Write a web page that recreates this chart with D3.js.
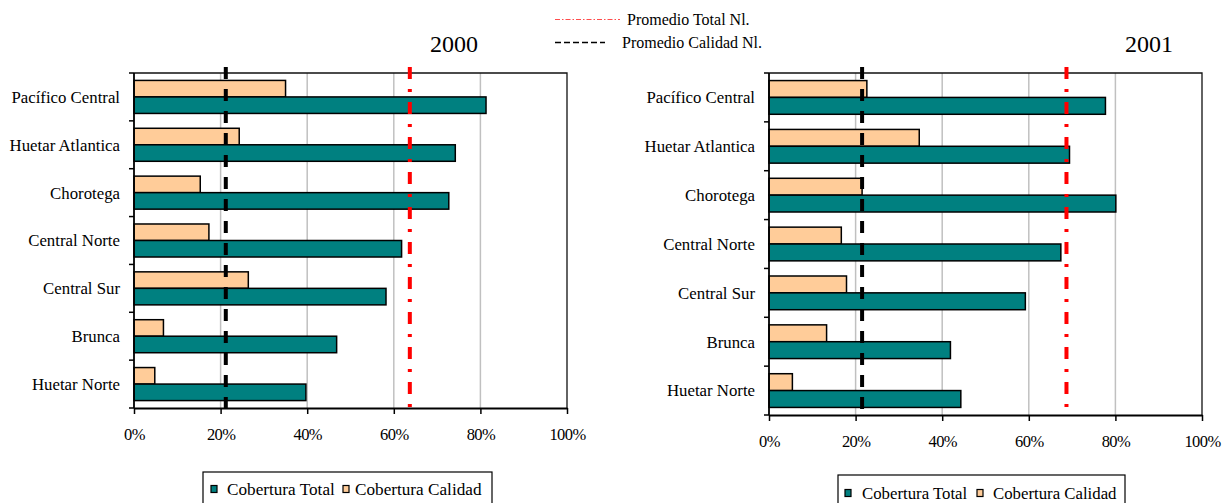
<!DOCTYPE html>
<html>
<head>
<meta charset="utf-8">
<script src="https://cdn.jsdelivr.net/npm/d3@7"></script>
<style>
  html, body { margin: 0; padding: 0; background: #fff; }
  svg { display: block; }
  text { font-family: "Liberation Serif", "Times New Roman", serif; fill: #000; }
</style>
</head>
<body>
<svg id="chart" width="1222" height="503"></svg>
<script>
// Regiones (de arriba hacia abajo)
const regiones = ["Pacífico Central", "Huetar Atlantica", "Chorotega", "Central Norte", "Central Sur", "Brunca", "Huetar Norte"];

// Cobertura (%) por región
const total2000   = [81.3, 74.2, 72.7, 61.8, 58.2, 46.8, 39.7];
const calidad2000 = [35.0, 24.3, 15.3, 17.3, 26.4, 6.8, 4.8];
const total2001   = [77.7, 69.4, 80.1, 67.4, 59.2, 41.9, 44.3];
const calidad2001 = [22.6, 34.7, 21.5, 16.7, 17.9, 13.3, 5.4];

// Promedios nacionales (%), 2000 y 2001
const anios = ["2000", "2001"];
const promedioTotal   = [63.7, 68.7];
const promedioCalidad = [21.2, 21.5];

const series = ["Cobertura Calidad", "Cobertura Total"];
const xTicks = [0, 20, 40, 60, 80, 100];

const colorTotal = "#008080";
const colorCalidad = "#FFCC99";
const serif = "Liberation Serif, Times New Roman, serif";

const svg = d3.select("#chart");

function panel(opt) {
  const g = svg.append("g");
  const x = d3.scaleLinear().domain([0, 100]).range([opt.left, opt.right]);
  const y = d3.scaleBand().domain(regiones).range([opt.top, opt.bottom])
    .paddingInner(0.31).paddingOuter(0.155);
  const ySub = d3.scaleBand().domain(series).range([0, y.bandwidth()]);

  // Gridlines
  g.append("g").selectAll("line").data(xTicks.filter(t => t > 0 && t < 100)).join("line")
    .attr("x1", d => x(d)).attr("x2", d => x(d))
    .attr("y1", opt.top).attr("y2", opt.bottom)
    .attr("stroke", "#c0c0c0").attr("stroke-width", 1.5);

  // Plot frame (top and right)
  g.append("path")
    .attr("d", `M${opt.left},${opt.top}H${opt.right}V${opt.bottom}`)
    .attr("fill", "none").attr("stroke", "#111").attr("stroke-width", 1.3);

  // Bars
  const rows = regiones.map((r, i) => ({ r, values: [
    { s: "Cobertura Calidad", v: opt.calidad[i], c: colorCalidad },
    { s: "Cobertura Total", v: opt.total[i], c: colorTotal }
  ]}));
  g.append("g").selectAll("g").data(rows).join("g")
    .attr("transform", d => `translate(0,${y(d.r)})`)
    .selectAll("rect").data(d => d.values).join("rect")
      .attr("x", x(0))
      .attr("y", d => ySub(d.s))
      .attr("width", d => x(d.v) - x(0))
      .attr("height", ySub.bandwidth())
      .attr("fill", d => d.c)
      .attr("stroke", "#000").attr("stroke-width", 1.5);

  // National averages
  const refTop = opt.top - 6;
  g.append("line")
    .attr("x1", x(opt.promCalidad)).attr("x2", x(opt.promCalidad))
    .attr("y1", refTop).attr("y2", opt.bottom)
    .attr("stroke", "#000").attr("stroke-width", 4)
    .attr("stroke-dasharray", "12,10");
  g.append("line")
    .attr("x1", x(opt.promTotal)).attr("x2", x(opt.promTotal))
    .attr("y1", refTop).attr("y2", opt.bottom)
    .attr("stroke", "#ff0000").attr("stroke-width", 4)
    .attr("stroke-dasharray", "12,10,3,10");

  // X axis
  const xAxis = d3.axisBottom(x).tickValues(xTicks).tickFormat(d => d + "%")
    .tickSize(6).tickSizeOuter(0).tickPadding(14);
  const gx = g.append("g").attr("transform", `translate(0,${opt.bottom})`).call(xAxis);
  gx.attr("font-family", serif);
  gx.select(".domain").attr("stroke", "#000").attr("stroke-width", 1.8);
  gx.selectAll(".tick line").attr("stroke", "#000").attr("stroke-width", 1.5);
  gx.selectAll(".tick text").attr("font-size", 16.5)
    .attr("font-family", serif)
    .attr("letter-spacing", -0.6);

  // Y axis: ticks on category boundaries
  g.append("line")
    .attr("x1", opt.left).attr("x2", opt.left)
    .attr("y1", opt.top).attr("y2", opt.bottom)
    .attr("stroke", "#000").attr("stroke-width", 1.8);
  const bounds = d3.range(regiones.length + 1).map(i => opt.top + i * y.step());
  g.append("g").selectAll("line").data(bounds).join("line")
    .attr("x1", opt.left - 5).attr("x2", opt.left)
    .attr("y1", d => d).attr("y2", d => d)
    .attr("stroke", "#000").attr("stroke-width", 1.5);
  g.append("g").selectAll("text").data(regiones).join("text")
    .attr("x", opt.left - 14)
    .attr("y", d => y(d) + y.bandwidth() / 2)
    .attr("dy", "0.35em")
    .attr("text-anchor", "end")
    .attr("font-family", serif)
    .attr("font-size", 16.8)
    .text(d => d);

  // Year title
  g.append("text")
    .attr("x", opt.titleX).attr("y", 52)
    .attr("text-anchor", "middle")
    .attr("font-family", serif)
    .attr("font-size", 24)
    .text(opt.title);

  // Series legend
  const lg = g.append("g");
  lg.append("rect")
    .attr("x", opt.legX).attr("y", opt.legY)
    .attr("width", opt.legW).attr("height", 40)
    .attr("fill", "#fff").attr("stroke", "#000").attr("stroke-width", 1.2);
  const items = [
    { label: "Cobertura Total", c: colorTotal, sq: opt.leg[0], tx: opt.leg[1] },
    { label: "Cobertura Calidad", c: colorCalidad, sq: opt.leg[2], tx: opt.leg[3] }
  ];
  items.forEach(it => {
    lg.append("rect")
      .attr("x", opt.legX + it.sq).attr("y", opt.legTextY - 3.5)
      .attr("width", 6).attr("height", 7)
      .attr("fill", it.c).attr("stroke", "#000").attr("stroke-width", 1.2);
    lg.append("text")
      .attr("x", opt.legX + it.tx).attr("y", opt.legTextY)
      .attr("dy", "0.35em")
      .attr("font-family", serif)
      .attr("font-size", opt.legFont)
      .text(it.label);
  });
}

panel({
  left: 134, right: 567, top: 73, bottom: 408,
  total: total2000, calidad: calidad2000,
  promTotal: promedioTotal[0], promCalidad: promedioCalidad[0],
  title: anios[0], titleX: 454,
  legX: 203, legY: 472, legW: 289, legTextY: 489, leg: [8, 24, 140, 152], legFont: 17.2
});

panel({
  left: 769, right: 1202, top: 73, bottom: 415,
  total: total2001, calidad: calidad2001,
  promTotal: promedioTotal[1], promCalidad: promedioCalidad[1],
  title: anios[1], titleX: 1149,
  legX: 838, legY: 475, legW: 287, legTextY: 493, leg: [7, 24, 139, 155], legFont: 16.8
});

// Average lines legend
const avgLegend = svg.append("g");
avgLegend.append("line")
  .attr("x1", 555).attr("x2", 620).attr("y1", 19.5).attr("y2", 19.5)
  .attr("stroke", "#ff4d4d").attr("stroke-width", 1)
  .attr("stroke-dasharray", "5,2,1.5,2");
avgLegend.append("text")
  .attr("x", 627).attr("y", 19.5).attr("dy", "0.35em")
  .attr("font-family", serif)
  .attr("font-size", 16).text("Promedio Total Nl.");
avgLegend.append("line")
  .attr("x1", 555).attr("x2", 605).attr("y1", 42.5).attr("y2", 42.5)
  .attr("stroke", "#000").attr("stroke-width", 1.3)
  .attr("stroke-dasharray", "6,3");
avgLegend.append("text")
  .attr("x", 622).attr("y", 42).attr("dy", "0.35em")
  .attr("font-family", serif)
  .attr("font-size", 16).text("Promedio Calidad Nl.");
</script>
</body>
</html>
